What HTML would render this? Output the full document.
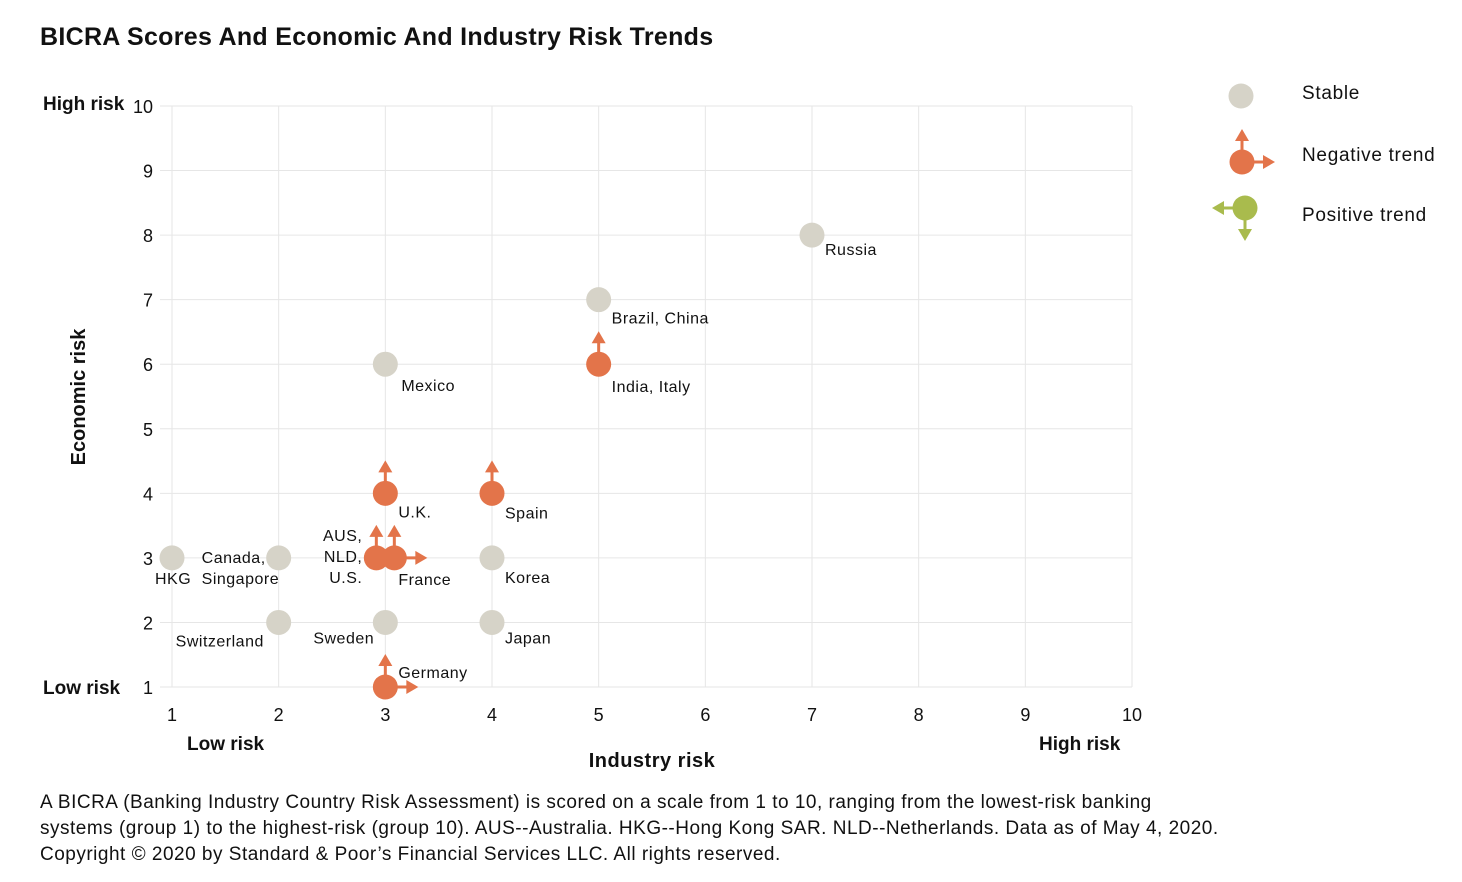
<!DOCTYPE html>
<html><head><meta charset="utf-8"><style>
body{margin:0;background:#fff;font-family:"Liberation Sans",sans-serif;color:#111}
#wrap{position:relative;width:1462px;height:882px;overflow:hidden}
.t{position:absolute;white-space:nowrap}
</style></head><body>
<div id="wrap">
<div class="t" style="left:40px;top:23px;font-size:25px;font-weight:bold;letter-spacing:0.3px">BICRA Scores And Economic And Industry Risk Trends</div>
<svg id="chart" width="1462" height="882" style="position:absolute;left:0;top:0"></svg>
<div class="t" style="left:40px;top:790px;font-size:19px;line-height:26px;letter-spacing:0.5px">A BICRA (Banking Industry Country Risk Assessment) is scored on a scale from 1 to 10, ranging from the lowest-risk banking<br>systems (group 1) to the highest-risk (group 10). AUS--Australia. HKG--Hong Kong SAR. NLD--Netherlands. Data as of May 4, 2020.<br>Copyright © 2020 by Standard &amp; Poor’s Financial Services LLC. All rights reserved.</div>
</div>
<script>
const countries=["Russia","Brazil, China","India, Italy","Mexico","U.K.","Spain","AUS|NLD|U.S.","France","Korea","HKG","Canada|Singapore","Switzerland","Sweden","Japan","Germany"];
const industryRisk=[7,5,5,3,3,4,3,3,4,1,2,2,3,4,3];
const economicRisk=[8,7,6,6,4,4,3,3,3,3,3,2,2,2,1];
const trend=["s","s","up","s","up","up","up","upright","s","s","s","s","s","s","upright"];
const xTicks=[1,2,3,4,5,6,7,8,9,10];
const yTicks=[1,2,3,4,5,6,7,8,9,10];
// label layout (styling only)
const labelDx=[13,13,13,16,13,13,-23,13,13,-17,-77,-103,-72,13,13];
const labelDy=[20,24,28,27,24,25,-17,27,25,26,5,24,21,21,-9];
const pointDx=[0,0,0,0,0,0,-9,9,0,0,0,0,0,0,0];

const X=v=>172+(v-1)*(1132-172)/9;
const Y=v=>687-(v-1)*(687-106)/9;
const svg=document.getElementById('chart');
const NS='http://www.w3.org/2000/svg';
function mk(tag,attrs){const e=document.createElementNS(NS,tag);for(const k in attrs)e.setAttribute(k,attrs[k]);svg.appendChild(e);return e;}
const OR='#e3744a',GR='#d6d3c8',GN='#a9bb4d';
xTicks.forEach(v=>{const l=mk('line',{x1:X(v),x2:X(v),y1:106,y2:687,stroke:'#e6e6e6'});

const t=mk('text',{x:X(v),y:721,'text-anchor':'middle','font-size':18,fill:'#111'});t.textContent=v;
});
yTicks.forEach(v=>{const l=mk('line',{x1:160,x2:1132,y1:Y(v),y2:Y(v),stroke:'#e6e6e6'});

const t=mk('text',{x:153,y:Y(v)+7,'text-anchor':'end','font-size':18,fill:'#111'});t.textContent=v;
});
function txt(s,x,y,name,opt){const t=mk('text',Object.assign({x:x,y:y,'font-size':19,'font-weight':'bold',fill:'#111'},opt||{}));t.textContent=s;
return t;}
txt('High risk',43,110,'y-high-risk-label');
txt('Low risk',43,694,'y-low-risk-label');
txt('Low risk',187,750,'x-low-risk-label');
txt('High risk',1039,750,'x-high-risk-label');
txt('Industry risk',652,767,'x-axis-title',{'text-anchor':'middle','font-size':20,'letter-spacing':'0.5'});
txt('Economic risk',85,397,'y-axis-title',{'text-anchor':'middle','font-size':20,transform:'rotate(-90 85 397)'});
function arrowUp(cx,cy,c){mk('line',{x1:cx,y1:cy,x2:cx,y2:cy-24,stroke:c,'stroke-width':3});
mk('polygon',{points:`${cx-7},${cy-21} ${cx+7},${cy-21} ${cx},${cy-33}`,fill:c});}
function arrowRight(cx,cy,c){mk('line',{x1:cx,y1:cy,x2:cx+24,y2:cy,stroke:c,'stroke-width':3});
mk('polygon',{points:`${cx+21},${cy-7} ${cx+21},${cy+7} ${cx+33},${cy}`,fill:c});}
countries.forEach((n,i)=>{
 const cx=X(industryRisk[i])+pointDx[i],cy=Y(economicRisk[i]);
 if(trend[i]!=='s')arrowUp(cx,cy,OR);
 if(trend[i]==='upright')arrowRight(cx,cy,OR);
 const c=mk('circle',{cx:cx,cy:cy,r:12.5,fill:trend[i]==='s'?GR:OR});
 
 
 const lines=n.split('|');
 lines.forEach((s,k)=>{
  let str=s+(k<lines.length-1?',':'');
  const anchor=(i===6)?'end':'start';
  const t=mk('text',{x:X(industryRisk[i])+labelDx[i],y:cy+labelDy[i]+k*21,'font-size':16,fill:'#111','text-anchor':anchor,'letter-spacing':'0.5'});
  t.textContent=str;
  
  
 });
});
// legend
const lg=mk('circle',{cx:1241,cy:96,r:12.5,fill:GR});

arrowUp(1242,162,OR);arrowRight(1242,162,OR);
const ln=mk('circle',{cx:1242,cy:162,r:12.5,fill:OR});

const g=GN,px=1245,py=208;
mk('line',{x1:px,y1:py,x2:px-24,y2:py,stroke:g,'stroke-width':3});
mk('polygon',{points:`${px-21},${py-7} ${px-21},${py+7} ${px-33},${py}`,fill:g});
mk('line',{x1:px,y1:py,x2:px,y2:py+24,stroke:g,'stroke-width':3});
mk('polygon',{points:`${px-7},${py+21} ${px+7},${py+21} ${px},${py+33}`,fill:g});
const lp=mk('circle',{cx:px,cy:py,r:12.5,fill:g});

[['Stable',99,'legend-stable'],['Negative trend',161,'legend-negative'],['Positive trend',221,'legend-positive']].forEach(a=>{
 const t=mk('text',{x:1302,y:a[1],'font-size':19,fill:'#111','letter-spacing':'0.7'});t.textContent=a[0];
 });
</script>
</body></html>
